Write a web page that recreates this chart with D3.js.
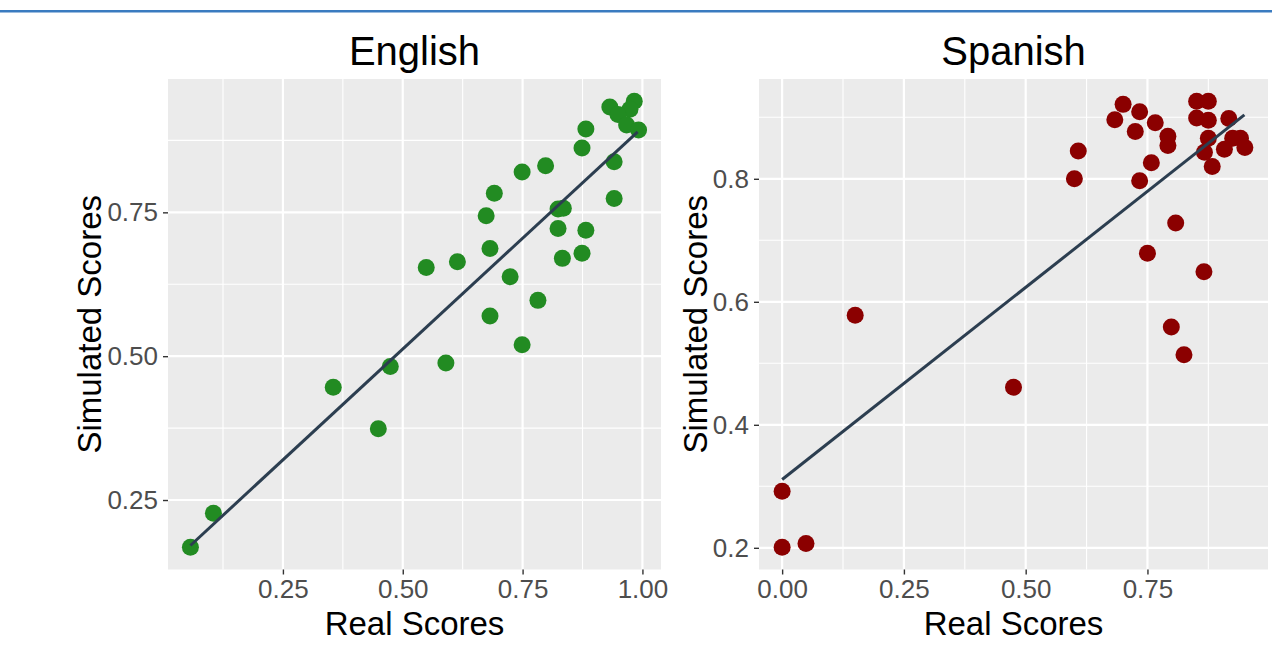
<!DOCTYPE html>
<html>
<head>
<meta charset="utf-8">
<script src="https://cdn.jsdelivr.net/npm/d3@7"></script>
<style>
  body { margin: 0; background: #ffffff; }
  svg { display: block; }
  text { font-family: "Liberation Sans", Arial, Helvetica, sans-serif; }
</style>
</head>
<body>
<svg id="chart" width="1272" height="649"></svg>
<script>
// English: real vs simulated scores
const englishReal = [0.932, 0.983, 0.974, 0.949, 0.967, 0.992, 0.882, 0.874, 0.941, 0.798,
  0.749, 0.691, 0.941, 0.674, 0.824, 0.835, 0.824, 0.882, 0.682, 0.614,
  0.549, 0.874, 0.833, 0.724, 0.782, 0.682, 0.749, 0.590, 0.474, 0.355,
  0.449, 0.105, 0.057];
const englishSim = [0.933, 0.943, 0.929, 0.920, 0.902, 0.893, 0.895, 0.862, 0.838, 0.831,
  0.820, 0.783, 0.774, 0.744, 0.756, 0.757, 0.722, 0.719, 0.687, 0.664,
  0.654, 0.679, 0.670, 0.638, 0.597, 0.570, 0.520, 0.488, 0.482, 0.446,
  0.374, 0.227, 0.168];

// Spanish: real vs simulated scores
const spanishReal = [0.700, 0.734, 0.683, 0.725, 0.766, 0.792, 0.792, 0.608, 0.600, 0.758,
  0.734, 0.851, 0.875, 0.851, 0.875, 0.917, 0.875, 0.925, 0.941, 0.867,
  0.908, 0.950, 0.883, 0.808, 0.750, 0.866, 0.799, 0.825, 0.475, 0.150,
  0.000, 0.000, 0.049];
const spanishSim = [0.921, 0.909, 0.896, 0.877, 0.891, 0.869, 0.854, 0.845, 0.800, 0.826,
  0.797, 0.926, 0.926, 0.899, 0.895, 0.898, 0.866, 0.866, 0.866, 0.843,
  0.848, 0.851, 0.820, 0.728, 0.679, 0.649, 0.559, 0.514, 0.461, 0.578,
  0.292, 0.201, 0.207];

// Linear fit endpoints (real, simulated)
const englishFitX = [0.057, 0.990];
const englishFitY = [0.171, 0.890];
const spanishFitX = [0.000, 0.949];
const spanishFitY = [0.311, 0.904];

// Axis ticks and labels
const englishXTicks = [0.25, 0.50, 0.75, 1.00];
const englishXLabels = ["0.25", "0.50", "0.75", "1.00"];
const englishYTicks = [0.25, 0.50, 0.75];
const englishYLabels = ["0.25", "0.50", "0.75"];
const spanishXTicks = [0.00, 0.25, 0.50, 0.75];
const spanishXLabels = ["0.00", "0.25", "0.50", "0.75"];
const spanishYTicks = [0.2, 0.4, 0.6, 0.8];
const spanishYLabels = ["0.2", "0.4", "0.6", "0.8"];

const svg = d3.select("#chart");

// thin blue rule across the top
svg.append("rect").attr("x", 0).attr("y", 10).attr("width", 1272).attr("height", 2.5)
  .attr("fill", "#3a7bc0");

const panelTop = 79, panelBottom = 569.5;

const panels = [
  { title: "English", real: englishReal, sim: englishSim, fitX: englishFitX, fitY: englishFitY,
    color: "#228B22", left: 168, right: 661,
    xTicks: englishXTicks, xLabels: englishXLabels, yTicks: englishYTicks, yLabels: englishYLabels },
  { title: "Spanish", real: spanishReal, sim: spanishSim, fitX: spanishFitX, fitY: spanishFitY,
    color: "#8B0000", left: 759, right: 1268,
    xTicks: spanishXTicks, xLabels: spanishXLabels, yTicks: spanishYTicks, yLabels: spanishYLabels }
];

// extent padded by 5% on both sides
function expanded(values) {
  const [a, b] = d3.extent(values);
  const pad = (b - a) * 0.05;
  return [a - pad, b + pad];
}

// minor breaks halfway between majors, kept inside the domain
function minorBreaks(ticks, domain) {
  const step = ticks[1] - ticks[0];
  const out = [];
  for (let i = -1; i < ticks.length; i++) {
    const v = ticks[0] + step * (i + 0.5);
    if (v > domain[0] && v < domain[1]) out.push(v);
  }
  return out;
}

panels.forEach(p => {
  const x = d3.scaleLinear().domain(expanded(p.real)).range([p.left, p.right]);
  const y = d3.scaleLinear().domain(expanded(p.sim)).range([panelBottom, panelTop]);
  const g = svg.append("g");

  g.append("rect").attr("x", p.left).attr("y", panelTop)
    .attr("width", p.right - p.left).attr("height", panelBottom - panelTop)
    .attr("fill", "#EBEBEB");

  // grid
  const grid = g.append("g");
  minorBreaks(p.xTicks, x.domain()).forEach(v => grid.append("line")
    .attr("x1", x(v)).attr("x2", x(v)).attr("y1", panelTop).attr("y2", panelBottom)
    .attr("stroke", "#ffffff").attr("stroke-width", 1.1));
  minorBreaks(p.yTicks, y.domain()).forEach(v => grid.append("line")
    .attr("x1", p.left).attr("x2", p.right).attr("y1", y(v)).attr("y2", y(v))
    .attr("stroke", "#ffffff").attr("stroke-width", 1.1));
  p.xTicks.forEach(v => grid.append("line")
    .attr("x1", x(v)).attr("x2", x(v)).attr("y1", panelTop).attr("y2", panelBottom)
    .attr("stroke", "#ffffff").attr("stroke-width", 2.2));
  p.yTicks.forEach(v => grid.append("line")
    .attr("x1", p.left).attr("x2", p.right).attr("y1", y(v)).attr("y2", y(v))
    .attr("stroke", "#ffffff").attr("stroke-width", 2.2));

  // points
  g.append("g").selectAll("circle").data(p.real.map((r, i) => [r, p.sim[i]]))
    .join("circle")
    .attr("cx", d => x(d[0])).attr("cy", d => y(d[1])).attr("r", 8.5)
    .attr("fill", p.color);

  // fitted line
  g.append("path")
    .datum(p.fitX.map((v, i) => [v, p.fitY[i]]))
    .attr("d", d3.line().x(d => x(d[0])).y(d => y(d[1])))
    .attr("fill", "none").attr("stroke", "#2C3E50").attr("stroke-width", 3);

  // axes
  const xAxis = g.append("g").attr("transform", `translate(0,${panelBottom})`)
    .call(d3.axisBottom(x).tickValues(p.xTicks).tickFormat((d, i) => p.xLabels[i])
      .tickSize(5).tickPadding(5));
  const yAxis = g.append("g").attr("transform", `translate(${p.left},0)`)
    .call(d3.axisLeft(y).tickValues(p.yTicks).tickFormat((d, i) => p.yLabels[i])
      .tickSize(5).tickPadding(5));
  [xAxis, yAxis].forEach(a => {
    a.select(".domain").remove();
    a.selectAll(".tick line").attr("stroke", "#333333").attr("stroke-width", 1.4);
    a.selectAll(".tick text").attr("fill", "#4D4D4D").style("font-size", "26px");
  });

  let maxW = 0;
  yAxis.selectAll(".tick text").each(function () {
    maxW = Math.max(maxW, this.getComputedTextLength());
  });

  // titles
  g.append("text").attr("x", (p.left + p.right) / 2).attr("y", 65)
    .attr("text-anchor", "middle").style("font-size", "40px").attr("fill", "#000")
    .text(p.title);
  g.append("text").attr("x", (p.left + p.right) / 2).attr("y", 634.5)
    .attr("text-anchor", "middle").style("font-size", "33px").attr("fill", "#000")
    .text("Real Scores");
  const yx = p.left - 10 - maxW - 6;
  g.append("text")
    .attr("transform", `translate(${yx},${(panelTop + panelBottom) / 2}) rotate(-90)`)
    .attr("text-anchor", "middle").style("font-size", "33px").attr("fill", "#000")
    .text("Simulated Scores");
});
</script>
</body>
</html>
